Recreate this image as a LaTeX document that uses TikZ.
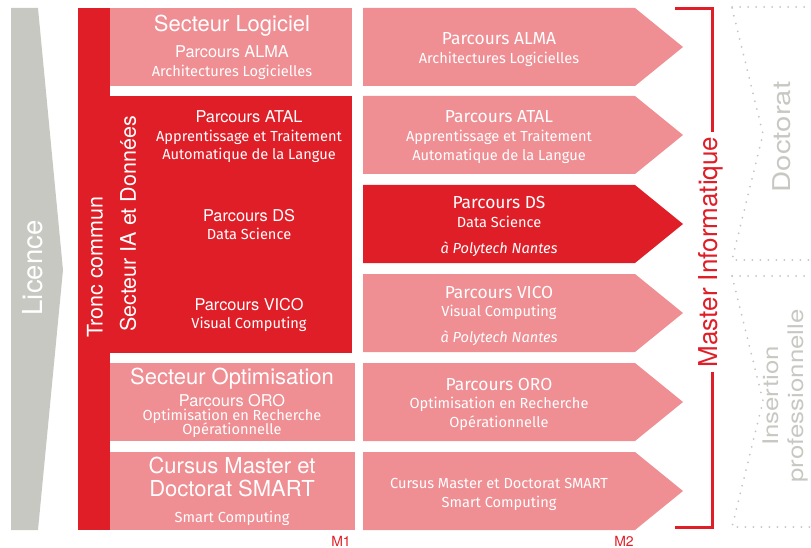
\documentclass[tikz,border=0pt]{standalone}
\usepackage{fontspec}
\setmainfont{Fira Sans}
\newfontfamily\grot{TeX Gyre Heros}
\newfontfamily\grotwide[FakeStretch=1.2]{TeX Gyre Heros}
\definecolor{masterred}{RGB}{224,30,39}
\definecolor{masterpink}{RGB}{239,142,147}
\definecolor{licencegray}{RGB}{200,200,195}
\definecolor{dotgray}{RGB}{196,196,194}
\def\titlefont{\grot\fontsize{22}{24}\selectfont}
\def\parcoursfont{\grot\fontsize{16.3}{18}\selectfont}
\def\rparcoursfont{\fontsize{17.4}{19}\selectfont}
\def\subfont{\fontsize{14.6}{16}\selectfont}
\def\sidefont{\grot\fontsize{21.5}{24}\selectfont}
\def\bigsidefont{\grot\fontsize{26}{28}\selectfont}

\begin{document}
\begin{tikzpicture}[x = 1pt, y = -1pt]

    \tikzset{txt/.style = {anchor = base, inner sep = 0pt, text = white}}
    \tikzset{side/.style = {inner sep = 0pt, rotate = 90, font = \sidefont, text = white}}
    \tikzset{dotline/.style = {draw = dotgray, line width = 2pt, line cap = round,
        dash pattern = on 0pt off 8pt}}

    \useasboundingbox (0,0) rectangle (811,548);

    % licence
    \fill[licencegray] (11,8) -- (38,8) -- (63,270) -- (38,530) -- (11,530) -- cycle;
    \node (licence) [side, font = \grot\fontsize{27.5}{30}\selectfont] at (33,268) {Licence};

    % M1
    \fill[masterred] (78,8) rectangle (110,530);
    \fill[masterred] (110,96) rectangle (352,353);
    \fill[masterpink] (110,8) rectangle (352,86);
    \fill[masterpink] (110,363) rectangle (355,441);
    \fill[masterpink] (110,452) rectangle (355,530);

    \node (tronc) [side] at (95,267) {Tronc commun};
    \node (secia) [side] at (128,224) {Secteur IA et Donn\'ees};

    \node (seclog) [txt, font = \titlefont] at (232,32) {Secteur Logiciel};
    \node (almaa) [txt, font = \parcoursfont] at (232,58) {Parcours ALMA};
    \node (almab) [txt, font = \subfont] at (232,77) {Architectures Logicielles};

    \node (atala) [txt, font = \parcoursfont] at (249,123) {Parcours ATAL};
    \node (atalb) [txt, font = \subfont] at (249,142) {Apprentissage et Traitement};
    \node (atalc) [txt, font = \subfont] at (249,160) {Automatique de la Langue};

    \node (dsa) [txt, font = \parcoursfont] at (249,222) {Parcours DS};
    \node (dsb) [txt, font = \subfont] at (249,240) {Data Science};

    \node (vicoa) [txt, font = \parcoursfont] at (249,310) {Parcours VICO};
    \node (vicob) [txt, font = \subfont] at (249,328) {Visual Computing};

    \node (secopt) [txt, font = \titlefont] at (232,384) {Secteur Optimisation};
    \node (oroa) [txt, font = \parcoursfont] at (232,406) {Parcours ORO};
    \node (orob) [txt, font = \subfont] at (232,420) {Optimisation en Recherche};
    \node (oroc) [txt, font = \subfont] at (232,434) {Op\'erationnelle};

    \node (smarta) [txt, font = \titlefont] at (232,473) {Cursus Master et};
    \node (smartb) [txt, font = \titlefont] at (232,496) {Doctorat SMART};
    \node (smartc) [txt, font = \subfont] at (232,522) {Smart Computing};

    % M2
    \foreach \top/\col in {8/masterpink, 96/masterpink, 185/masterred,
        274/masterpink, 363/masterpink, 452/masterpink}
        \fill[\col] (363,\top) -- ++(272,0) -- ++(48,39) -- ++(-48,39) -- ++(-272,0) -- cycle;

    \node (ralmaa) [txt, font = \rparcoursfont] at (499,45) {Parcours ALMA};
    \node (ralmab) [txt, font = \subfont] at (499,64) {Architectures Logicielles};

    \node (ratala) [txt, font = \rparcoursfont] at (499,123) {Parcours ATAL};
    \node (ratalb) [txt, font = \subfont] at (499,142) {Apprentissage et Traitement};
    \node (ratalc) [txt, font = \subfont] at (499,161) {Automatique de la Langue};

    \node (rdsa) [txt, font = \rparcoursfont] at (499,209) {Parcours DS};
    \node (rdsb) [txt, font = \subfont] at (499,228) {Data Science};
    \node (rdsc) [txt, font = \subfont\itshape] at (499,254) {\`a Polytech Nantes};

    \node (rvicoa) [txt, font = \rparcoursfont] at (499,298) {Parcours VICO};
    \node (rvicob) [txt, font = \subfont] at (499,316) {Visual Computing};
    \node (rvicoc) [txt, font = \subfont\itshape] at (499,342) {\`a Polytech Nantes};

    \node (roroa) [txt, font = \rparcoursfont] at (499,390) {Parcours ORO};
    \node (rorob) [txt, font = \subfont] at (499,408) {Optimisation en Recherche};
    \node (roroc) [txt, font = \subfont] at (499,427) {Op\'erationnelle};

    \node (rsmarta) [txt, font = \subfont] at (499,488) {Cursus Master et Doctorat SMART};
    \node (rsmartb) [txt, font = \subfont] at (499,507) {Smart Computing};

    \node (mone) [txt, text = masterred, font = \grot\fontsize{14}{16}\selectfont] at (341,546) {M1};
    \node (mtwo) [txt, text = masterred, font = \grot\fontsize{14}{16}\selectfont] at (624,546) {M2};

    % master bracket
    \draw[masterred, line width = 3pt] (675,9) -| (712,527) -- (675,527);
    \node (master) [side, font = \bigsidefont, text = masterred, fill = white,
        inner xsep = 5pt] at (711,252) {Master Informatique};

    % after the master
    \draw[dotline] (732,7) -- (811,7);
    \draw[dotline] (732,8) -- (763,134) -- (732,260) -- (811,260);
    \draw[dotline] (732,276) -- (811,276);
    \draw[dotline] (732,276) -- (763,401) -- (732,527) -- (811,527);

    \node (doct) [side, font = \grotwide\fontsize{24.5}{26}\selectfont, text = licencegray]
        at (782,137) {Doctorat};
    \node (insert) [side, align = center, font = \grotwide\fontsize{21.5}{25}\selectfont,
        text = licencegray] at (785,396) {Insertion\\professionnelle};

\end{tikzpicture}
\end{document}
